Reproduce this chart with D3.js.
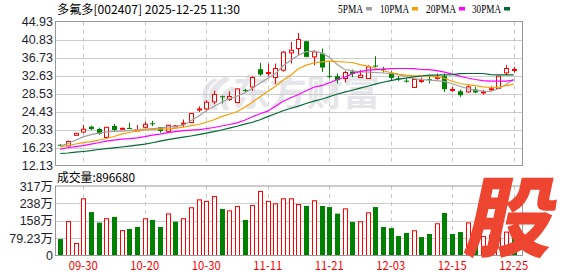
<!DOCTYPE html>
<html>
<head>
<meta charset="utf-8">
<script src="https://cdn.jsdelivr.net/npm/d3@7"></script>
<style>
  body { margin: 0; background: #fff; }
  svg { display: block; }
</style>
</head>
<body>
<div id="chart"></div>
<script>
// trading days shown on the chart
const dates = ["09-25","09-26","09-29","09-30","10-09","10-10","10-13","10-14","10-15","10-16",
  "10-17","10-20","10-21","10-22","10-23","10-24","10-27","10-28","10-29","10-30",
  "10-31","11-03","11-04","11-05","11-06","11-07","11-10","11-11","11-12","11-13",
  "11-14","11-17","11-18","11-19","11-20","11-21","11-24","11-25","11-26","11-27",
  "11-28","12-01","12-02","12-03","12-04","12-05","12-08","12-09","12-10","12-11",
  "12-12","12-15","12-16","12-17","12-18","12-19","12-22","12-23","12-24","12-25"];

const open  = [16.85,16.6,19.0,19.76,20.97,20.44,18.51,21.13,20.5,20.68,
  19.99,20.83,21.75,20.83,19.92,21.0,21.6,21.92,24.85,25.02,
  26.62,27.9,27.16,26.48,29.35,30.03,34.06,33.1,32.17,33.84,
  37.78,38.78,40.44,36.87,37.64,32.55,32.47,31.95,33.54,32.17,
  31.95,34.9,34.15,33.22,32.0,31.45,29.9,31.35,31.8,32.05,
  32.47,29.3,29.05,28.89,29.44,28.75,29.45,29.67,33.22,33.8];
const high  = [17.0,17.8,19.5,21.36,21.2,20.74,20.9,21.58,20.75,21.88,
  21.36,22.1,22.3,20.9,21.4,21.4,22.6,24.1,25.6,27.0,
  29.2,28.07,28.99,29.7,29.6,32.47,35.5,35.36,35.36,38.2,
  40.28,42.33,40.5,38.39,38.78,35.73,33.09,33.68,33.99,33.84,
  34.98,37.03,34.6,33.6,32.5,31.8,31.8,32.17,32.7,33.09,
  33.09,30.03,29.44,30.42,30.03,29.3,30.2,32.5,34.98,34.6];
const low   = [16.6,16.5,19.0,19.46,20.2,19.15,18.17,19.99,20.4,20.5,
  19.99,20.67,21.13,19.6,19.8,20.9,20.9,21.8,24.34,24.7,
  26.09,26.25,26.85,26.3,28.9,29.12,32.54,32.47,30.65,33.5,
  35.36,37.25,36.8,34.98,33.45,31.95,30.81,31.04,32.24,32.1,
  31.9,34.45,33.3,31.56,31.4,31.0,29.85,30.95,30.81,31.7,
  28.89,28.89,27.76,28.67,28.6,28.3,29.2,29.6,32.7,33.3];
const close = [16.8,17.6,19.45,20.38,20.44,19.37,20.83,20.22,20.6,20.6,
  20.3,21.51,21.6,19.99,21.29,21.15,21.75,23.97,25.0,26.55,
  28.3,27.75,27.85,29.58,29.2,32.17,32.86,33.3,34.22,37.94,
  38.39,40.83,36.87,38.0,34.45,32.45,31.56,33.31,33.0,32.7,
  34.6,34.75,34.0,32.08,31.9,31.35,31.72,31.5,31.65,32.2,
  29.51,29.45,28.14,30.03,28.76,28.9,29.6,32.47,34.22,34.0];

// volume in 万 shares, and whether the bar is drawn red (1) or green (0)
const volume = [75,157,57,261,198,150,170,176,116,121,
  130,170,162,130,192,154,170,220,256,249,
  271,212,206,226,162,230,294,249,238,261,
  261,235,226,252,226,221,191,215,153,156,
  197,221,130,125,89,103,115,84,98,147,
  194,98,107,151,110,89,95,190,109,89.668];
const volUp = [0,1,1,1,0,0,1,0,1,0,
  0,1,0,0,1,0,1,1,1,1,
  1,0,1,1,0,1,1,1,1,1,
  1,1,0,1,0,0,0,1,0,1,
  1,0,0,0,0,0,1,0,0,1,
  0,0,0,1,0,1,1,1,1,0];

// moving averages
const ma5  = [16.53,17.1,17.89,18.64,19.15,19.49,19.78,19.87,19.94,20.06,
  20.28,20.4,20.51,20.63,20.85,21.04,21.31,22.33,23.36,24.61,
  25.57,26.55,27.32,27.92,28.71,29.74,30.88,32.02,33.04,34.86,
  36.12,37.25,38.05,38.16,37.78,36.8,35.2,34.0,33.72,33.45,
  33.38,33.31,33.2,33.09,32.81,32.36,31.9,31.67,31.56,31.45,
  31.22,30.76,30.19,29.62,29.28,29.05,28.99,29.62,30.53,31.79];
const ma10 = [16.37,16.69,17.03,17.32,17.55,17.89,18.28,18.74,19.26,19.65,
  20.06,20.24,20.33,20.4,20.49,20.58,20.85,21.2,21.47,21.99,
  22.56,23.25,23.81,24.38,25.41,26.55,27.8,28.99,30.19,31.56,
  32.7,34.18,34.98,35.48,35.73,35.89,35.77,35.7,35.59,35.09,
  34.75,34.29,33.72,33.31,32.93,32.7,32.54,32.54,32.52,32.31,
  32.01,31.33,30.81,30.53,30.31,30.03,29.9,29.96,30.31,30.65];
const ma20 = [15.84,16.18,16.41,16.64,16.98,17.32,17.67,17.89,18.12,18.23,
  18.42,18.69,19.03,19.26,19.6,19.83,20.06,20.17,20.28,20.51,
  20.79,21.13,21.47,21.83,22.45,23.25,23.93,24.5,25.64,26.78,
  27.57,28.3,29.17,29.96,30.31,30.99,31.67,32.24,33.04,33.5,
  33.84,33.95,34.06,34.18,34.22,34.22,34.18,34.0,33.95,33.72,
  33.38,32.93,32.47,32.06,31.72,31.45,31.33,31.33,31.33,31.56];
const ma30 = [14.86,14.98,15.16,15.32,15.5,15.77,15.96,16.14,16.34,16.53,
  16.75,16.98,17.32,17.67,18.01,18.3,18.58,18.85,19.15,19.49,
  19.83,20.22,20.63,21.08,21.54,21.99,22.56,23.25,23.93,24.61,
  25.18,25.64,26.25,26.78,27.23,27.8,28.37,28.83,29.28,29.74,
  30.19,30.65,31.1,31.45,31.79,32.02,32.31,32.52,32.7,32.7,
  32.79,32.81,33.04,33.09,33.09,33.09,32.81,32.77,32.77,32.77];

const priceTicks = [12.13,16.23,20.33,24.43,28.53,32.63,36.73,40.83,44.93];
const volTicks = [0,79.23,158.46,237.69,316.92];
const volTickLabels = ["0","79.23万","158万","238万","317万"];
const dateTicks = ["09-30","10-20","10-30","11-11","11-21","12-03","12-15","12-25"];
const maNames = ["5PMA","10PMA","20PMA","30PMA"];

const W = 578, H = 276;
const left = 55.5, right = 522.5;
const mainTop = 21.5, mainBottom = 165.5;
const volTop = 186, volBottom = 255.5;
const red = "#ff0000", green = "#008000";
const maColors = ["#a0a0a0", "#f5a000", "#ff00ff", "#006a32"];
const labelFont = "'Liberation Sans', Arial, 'Noto Sans CJK SC', sans-serif";
const cjkFont = "'Noto Sans CJK SC', 'Liberation Sans', sans-serif";

let svg = d3.select("#chart").append("svg")
    .attr("width", W)
    .attr("height", H);

let x = d3.scaleBand()
    .domain(dates)
    .range([56.35, 517.5]);
let cx = d => x(d) + x.bandwidth() / 2;

let y = d3.scaleLinear()
    .domain([priceTicks[0], priceTicks[priceTicks.length - 1]])
    .range([mainBottom, mainTop]);

let yv = d3.scaleLinear()
    .domain([0, volTicks[volTicks.length - 1]])
    .range([volBottom, volTop]);

// watermark in the price panel
let wm = svg.append("g").attr("fill", "#e6e6ea");
wm.append("text")
    .attr("x", 233)
    .attr("y", 106)
    .attr("font-family", cjkFont)
    .attr("font-weight", 700)
    .attr("font-size", 36)
    .attr("textLength", 147)
    .attr("lengthAdjust", "spacingAndGlyphs")
    .text("东方财富");
wm.append("path")
    .attr("d", "M226,76 C210,84 204,96 212,110 L218,110 C212,98 216,88 230,80 Z M232,86 C220,92 218,102 224,110 L229,110 C225,102 228,95 236,90 Z M214,78 C204,84 200,94 204,104 L208,102 C206,94 208,86 218,80 Z");

// grid lines
let grid = svg.append("g");
grid.selectAll(".hgrid")
    .data(priceTicks.slice(1, -1))
    .enter().append("line")
    .attr("x1", left).attr("x2", right)
    .attr("y1", d => Math.round(y(d)) + 0.5)
    .attr("y2", d => Math.round(y(d)) + 0.5)
    .attr("stroke", "#cccccc");
grid.selectAll(".vgrid-vol")
    .data(volTicks.slice(1, -1))
    .enter().append("line")
    .attr("x1", left).attr("x2", right)
    .attr("y1", d => Math.round(yv(d)) + 0.5)
    .attr("y2", d => Math.round(yv(d)) + 0.5)
    .attr("stroke", "#cccccc");
[[mainTop, mainBottom], [volTop, volBottom]].forEach(r => {
    grid.selectAll(null)
        .data(dateTicks)
        .enter().append("line")
        .attr("x1", d => Math.round(cx(d)) + 0.5)
        .attr("x2", d => Math.round(cx(d)) + 0.5)
        .attr("y1", r[0]).attr("y2", r[1])
        .attr("stroke", "#c8c8c8")
        .attr("stroke-dasharray", "4,4");
});

// candles
let idx = d3.range(dates.length);
let candles = svg.append("g");
candles.selectAll(".wick")
    .data(idx)
    .enter().append("line")
    .attr("x1", i => Math.round(cx(dates[i])) + 0.5)
    .attr("x2", i => Math.round(cx(dates[i])) + 0.5)
    .attr("y1", i => y(high[i]))
    .attr("y2", i => y(low[i]))
    .attr("stroke", i => close[i] >= open[i] ? red : green);
candles.selectAll(".body")
    .data(idx)
    .enter().append("rect")
    .attr("x", i => Math.round(cx(dates[i])) - 2 + (close[i] >= open[i] ? 0.5 : 0))
    .attr("width", i => close[i] >= open[i] ? 4 : 5)
    .attr("y", i => Math.min(y(open[i]), y(close[i])))
    .attr("height", i => Math.max(1, Math.abs(y(open[i]) - y(close[i]))))
    .attr("fill", i => close[i] >= open[i] ? "#fff" : green)
    .attr("stroke", i => close[i] >= open[i] ? red : "none");

// moving average lines
let maLine = d3.line()
    .x((d, i) => cx(dates[i]))
    .y(d => y(d));
[ma5, ma10, ma20, ma30].forEach((m, k) => {
    svg.append("path")
        .datum(m)
        .attr("d", maLine)
        .attr("fill", "none")
        .attr("stroke", maColors[k])
        .attr("stroke-width", 1.2);
});

// volume bars
svg.append("g").selectAll("rect")
    .data(idx)
    .enter().append("rect")
    .attr("x", i => Math.round(cx(dates[i])) - 2 + (volUp[i] ? 0.5 : 0))
    .attr("width", i => volUp[i] ? 4 : 5)
    .attr("y", i => yv(volume[i]) + (volUp[i] ? 0.5 : 0))
    .attr("height", i => volBottom - yv(volume[i]) - (volUp[i] ? 0.5 : 0))
    .attr("fill", i => volUp[i] ? "#fff" : green)
    .attr("stroke", i => volUp[i] ? red : "none");

// panel borders
[[mainTop, mainBottom], [volTop, volBottom]].forEach(r => {
    svg.append("rect")
        .attr("x", left).attr("y", r[0])
        .attr("width", right - left).attr("height", r[1] - r[0])
        .attr("fill", "none")
        .attr("stroke", "#999");
});

// axis labels
svg.append("g").selectAll("text")
    .data(priceTicks)
    .enter().append("text")
    .attr("x", 53)
    .attr("y", d => y(d) + 4.5)
    .attr("text-anchor", "end")
    .attr("font-family", labelFont)
    .attr("font-size", 12.5)
    .attr("fill", "#1e1e2e")
    .text(d => d.toFixed(2));
svg.append("g").selectAll("text")
    .data(volTicks)
    .enter().append("text")
    .attr("x", 53)
    .attr("y", d => yv(d) + 4.5)
    .attr("text-anchor", "end")
    .attr("font-family", labelFont)
    .attr("font-size", 12.5)
    .attr("fill", "#1e1e2e")
    .text((d, i) => volTickLabels[i]);
svg.append("g").selectAll("text")
    .data(dateTicks)
    .enter().append("text")
    .attr("x", d => cx(d) - 14.5)
    .attr("y", 269.5)
    .attr("font-family", cjkFont)
    .attr("font-size", 12)
    .attr("textLength", 29)
    .attr("lengthAdjust", "spacingAndGlyphs")
    .attr("fill", red)
    .text(d => d);

// title and volume caption
svg.append("text")
    .attr("x", 57).attr("y", 14)
    .attr("font-family", cjkFont)
    .attr("font-size", 12)
    .attr("textLength", 183)
    .attr("lengthAdjust", "spacingAndGlyphs")
    .attr("fill", "#000")
    .text("多氟多[002407] 2025-12-25 11:30");
svg.append("text")
    .attr("x", 57).attr("y", 182)
    .attr("font-family", cjkFont)
    .attr("font-size", 12)
    .attr("textLength", 78)
    .attr("lengthAdjust", "spacingAndGlyphs")
    .attr("fill", "#000")
    .text("成交量:" + Math.round(volume[volume.length - 1] * 10000));

// legend
let legendX = [338, 380, 426, 472];
let legendW = [25, 29, 30, 29];
maNames.forEach((n, k) => {
    svg.append("text")
        .attr("x", legendX[k]).attr("y", 13)
        .attr("font-family", "'Liberation Serif', serif")
        .attr("font-size", 12)
        .attr("textLength", legendW[k])
        .attr("lengthAdjust", "spacingAndGlyphs")
        .attr("fill", "#000")
        .text(n);
    svg.append("rect")
        .attr("x", legendX[k] + legendW[k] + 3).attr("y", 7)
        .attr("width", 6).attr("height", 3.5)
        .attr("fill", maColors[k]);
});

// corner logo
svg.append("text")
    .attr("transform", "translate(513,218) skewX(-12)")
    .attr("x", 0).attr("y", 32)
    .attr("text-anchor", "middle")
    .attr("font-family", cjkFont)
    .attr("font-weight", 900)
    .attr("font-size", 88)
    .attr("fill", "#ee4530")
    .text("股");
</script>
</body>
</html>
